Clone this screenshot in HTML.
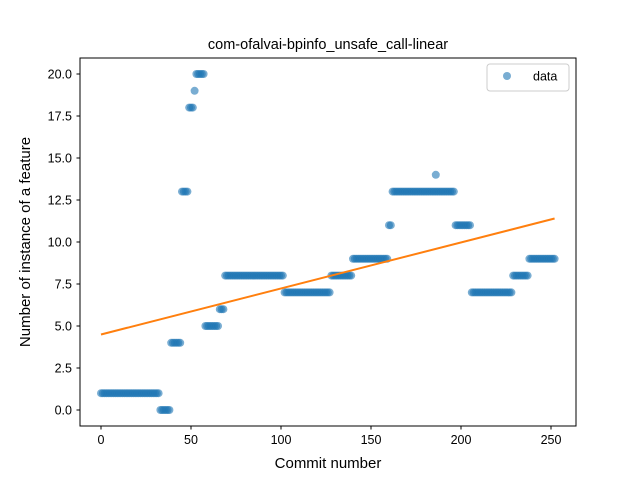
<!DOCTYPE html>
<html><head><meta charset="utf-8"><style>
body{margin:0;background:#fff;}
svg text{font-family:"Liberation Sans","DejaVu Sans",sans-serif;fill:#000;}
</style></head><body>
<svg id="chart" width="640" height="480" xmlns="http://www.w3.org/2000/svg">
<rect width="640" height="480" fill="#fff"/>
<text x="328" y="49" font-size="14.5" text-anchor="middle">com-ofalvai-bpinfo_unsafe_call-linear</text>
<g id="marks"></g>
<rect x="80" y="58" width="496" height="368" fill="none" stroke="#000" stroke-width="1"/>
<g id="axes"></g>
<text x="328" y="468" font-size="15" text-anchor="middle">Commit number</text>
<text transform="translate(30,242) rotate(-90)" font-size="15" text-anchor="middle">Number of instance of a feature</text>
<g>
<rect x="487" y="64" width="82" height="27" rx="3" fill="#fff" stroke="#ccc"/>
<circle cx="507" cy="76" r="4" fill="#1f77b4" fill-opacity="0.6"/>
<text x="533" y="80.5" font-size="12.5">data</text>
</g>
</svg>
<script>
const segStarts = [0,33,39,45,49,52,53,58,66,69,102,128,140,160,162,197,206,229,238];
const segEnds   = [32,38,44,48,51,52,57,65,68,101,127,139,159,161,196,205,228,237,252];
const segValues = [1,0,4,13,18,19,20,5,6,8,7,8,9,11,13,11,7,8,9];
const extraIdx = [186];
const extraVals = [14];
const xTicks = [0,50,100,150,200,250];
const yTicks = [0,2.5,5,7.5,10,12.5,15,17.5,20];

const xs=[],ys=[];
for(let s=0;s<segStarts.length;s++){for(let i=segStarts[s];i<=segEnds[s];i++){xs.push(i);ys.push(segValues[s]);}}
for(let k=0;k<extraIdx.length;k++){xs.push(extraIdx[k]);ys.push(extraVals[k]);}

const X=v=>101+v*1.8;
const Y=v=>410-v*16.8;
const NS="http://www.w3.org/2000/svg";
const marks=document.getElementById('marks');
const axes=document.getElementById('axes');
for(let i=0;i<xs.length;i++){
  const c=document.createElementNS(NS,'circle');
  
  
  c.setAttribute('cx',X(xs[i]));c.setAttribute('cy',Y(ys[i]));c.setAttribute('r',4);
  c.setAttribute('fill','#1f77b4');c.setAttribute('fill-opacity','0.6');
  marks.appendChild(c);
}
const n=xs.length;let mx=0,my=0;for(let i=0;i<n;i++){mx+=xs[i];my+=ys[i];}mx/=n;my/=n;
let sxy=0,sxx=0;for(let i=0;i<n;i++){sxy+=(xs[i]-mx)*(ys[i]-my);sxx+=(xs[i]-mx)**2;}
const b=sxy/sxx,a=my-b*mx;
const xmin=Math.min(...xs),xmax=Math.max(...xs);
const ln=document.createElementNS(NS,'line');


ln.setAttribute('x1',X(xmin));ln.setAttribute('y1',Y(a+b*xmin));
ln.setAttribute('x2',X(xmax));ln.setAttribute('y2',Y(a+b*xmax));
ln.setAttribute('stroke','#ff7f0e');ln.setAttribute('stroke-width','2');
marks.appendChild(ln);
xTicks.forEach(t=>{
  const l=document.createElementNS(NS,'line');
  
  
  l.setAttribute('x1',X(t));l.setAttribute('x2',X(t));l.setAttribute('y1',426);l.setAttribute('y2',429.5);l.setAttribute('stroke','#000');
  axes.appendChild(l);
  const tx=document.createElementNS(NS,'text');
  
  
  tx.setAttribute('x',X(t));tx.setAttribute('y',444);tx.setAttribute('font-size','12.5');tx.setAttribute('text-anchor','middle');
  tx.textContent=t;axes.appendChild(tx);
});
yTicks.forEach(t=>{
  const l=document.createElementNS(NS,'line');
  
  
  l.setAttribute('x1',76.5);l.setAttribute('x2',80);l.setAttribute('y1',Y(t));l.setAttribute('y2',Y(t));l.setAttribute('stroke','#000');
  axes.appendChild(l);
  const tx=document.createElementNS(NS,'text');
  
  
  tx.setAttribute('x',72);tx.setAttribute('y',Y(t)+4.5);tx.setAttribute('font-size','12.5');tx.setAttribute('text-anchor','end');
  tx.textContent=t.toFixed(1);axes.appendChild(tx);
});
</script>
</body></html>
